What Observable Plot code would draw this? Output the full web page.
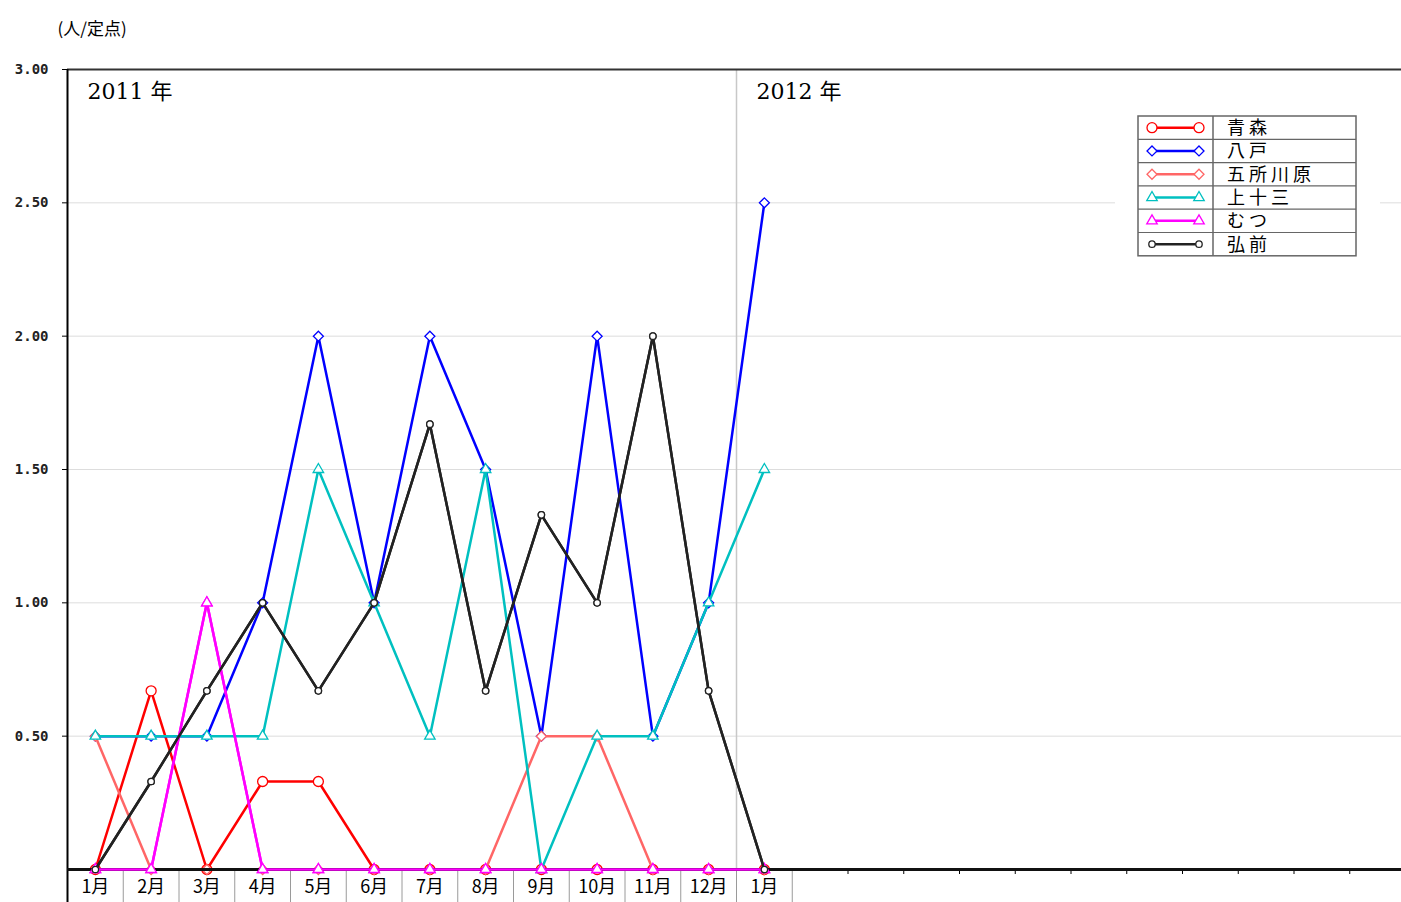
<!DOCTYPE html>
<html>
<head>
<meta charset="utf-8">
<script src="https://cdn.jsdelivr.net/npm/d3@7"></script>
<script src="https://cdn.jsdelivr.net/npm/@observablehq/plot@0.6"></script>
<style>
  html, body { margin: 0; padding: 0; background: #fff; }
  #chart svg { display: block; }
</style>
</head>
<body>
<div id="chart"></div>
<script>
const unitLabel = "(人/定点)";
const yearLabels = ["2011 年", "2012 年"];
const yearStarts = [0, 12];
const months = ["1月","2月","3月","4月","5月","6月","7月","8月","9月","10月","11月","12月","1月"];
const yTicks = [0.5, 1.0, 1.5, 2.0, 2.5, 3.0];

const seriesNames = ["青森", "八戸", "五所川原", "上十三", "むつ", "弘前"];
const seriesColors = ["#ff0000", "#0000ff", "#ff6666", "#00c0c0", "#ff00ff", "#222222"];
const seriesSymbols = ["circle", "diamond2", "diamond2", "triangle2", "triangle2", "circle"];
const seriesR = [5, 4.5, 4.5, 5, 5, 3.2];

const aomori      = [0, 0.67, 0, 0.33, 0.33, 0, 0, 0, 0, 0, 0, 0, 0];
const hachinohe   = [0.5, 0.5, 0.5, 1, 2, 1, 2, 1.5, 0.5, 2, 0.5, 1, 2.5];
const goshogawara = [0.5, 0, 0, 0, 0, 0, 0, 0, 0.5, 0.5, 0, 0, 0];
const kamitosan   = [0.5, 0.5, 0.5, 0.5, 1.5, 1, 0.5, 1.5, 0, 0.5, 0.5, 1, 1.5];
const mutsu       = [0, 0, 1, 0, 0, 0, 0, 0, 0, 0, 0, 0, 0];
const hirosaki    = [0, 0.33, 0.67, 1, 0.67, 1, 1.67, 0.67, 1.33, 1, 2, 0.67, 0];

const seriesValues = [aomori, hachinohe, goshogawara, kamitosan, mutsu, hirosaki];

const font = "'Noto Sans CJK JP', 'DejaVu Sans', sans-serif";
const W = 1401, H = 902;
const mL = 67, mR = 0, mT = 69, mB = 33;
const slotPx = 55.75;
const xMax = (W - mL - mR) / slotPx;

const boundaries = d3.range(1, 14);
const minorTicks = d3.range(14, 24);
const centers = months.map((_, i) => i + 0.5);

const marks = [
  Plot.ruleY(yTicks.filter(v => v < 3), {stroke: "#dddddd", strokeWidth: 1}),
  Plot.ruleX([12], {stroke: "#c8c8c8", strokeWidth: 1.5}),
  Plot.ruleY([3], {stroke: "#333333", strokeWidth: 2}),
  Plot.axisY({ticks: yTicks, tickFormat: d3.format(".2f"), tickSize: 5, tickPadding: 14, label: null,
    fontSize: 14, fontWeight: "bold", fontFamily: "'DejaVu Sans Mono', monospace", stroke: "#000", color: "#222"}),
  Plot.axisX({ticks: boundaries, tickFormat: () => "", tickSize: 33, stroke: "#9a9a9a", label: null}),
  Plot.axisX({ticks: minorTicks, tickFormat: () => "", tickSize: 5, stroke: "#000", label: null}),
  Plot.axisX({ticks: centers, tickFormat: (d, i) => months[i], tickSize: 0, tickPadding: 11, label: null,
    fontSize: 18, fontFamily: font, color: "#000"}),
  Plot.text([unitLabel], {frameAnchor: "top-left", dx: -10, dy: -47, fontSize: 17, fontFamily: font, textAnchor: "start", fill: "#000"}),
  Plot.text(yearLabels, {x: (d, i) => yearStarts[i], y: () => 3, dx: 20, dy: 22, textAnchor: "start",
    fontSize: 22, fontFamily: "'DejaVu Serif', 'Noto Sans CJK JP', serif", fill: "#000"})
];

seriesValues.forEach((vals, s) => {
  const data = vals.map((v, i) => ({x: i + 0.5, y: v}));
  marks.push(Plot.line(data, {x: "x", y: "y", stroke: seriesColors[s], strokeWidth: 2.5}));
  marks.push(Plot.dot(data, {x: "x", y: "y", symbol: seriesSymbols[s], r: seriesR[s], stroke: seriesColors[s], fill: "#fff", strokeWidth: 1.3}));
});

marks.push(Plot.ruleX([0], {stroke: "#000", strokeWidth: 2}));
marks.push(Plot.axisX({ticks: [0], tickFormat: () => "", tickSize: 33, stroke: "#000", strokeWidth: 2, label: null}));
marks.push(Plot.ruleY([0], {stroke: "#111", strokeWidth: 3}));
[4, 5].forEach(s => {
  const data = seriesValues[s].map((v, i) => ({x: i + 0.5, y: v}));
  marks.push(Plot.line(data, {x: "x", y: "y", stroke: seriesColors[s], strokeWidth: 2.5}));
  marks.push(Plot.dot(data, {x: "x", y: "y", symbol: seriesSymbols[s], r: seriesR[s], stroke: seriesColors[s], fill: "#fff", strokeWidth: 1.3}));
});

const plot = Plot.plot({
  width: W, height: H,
  marginLeft: mL, marginRight: mR, marginTop: mT, marginBottom: mB,
  x: {type: "linear", domain: [0, xMax], axis: null},
  y: {type: "linear", domain: [0, 3], axis: null},
  style: {fontFamily: font, background: "#fff", overflow: "visible"},
  marks
});

// Legend
const symbolMap = {circle: d3.symbolCircle, diamond2: d3.symbolDiamond2, triangle2: d3.symbolTriangle2};
const svg = d3.select(plot);
const lg = svg.append("g").attr("text-anchor", "start");
lg.append("rect").attr("x", 1115).attr("y", 104).attr("width", 265).attr("height", 162).attr("fill", "#fff");
const bx = 1138, by = 116, bw = 218, rowH = 23.3, bh = rowH * seriesNames.length;
lg.append("rect").attr("x", bx).attr("y", by).attr("width", bw).attr("height", bh)
  .attr("fill", "#fff").attr("stroke", "#666").attr("stroke-width", 1.5);
lg.append("line").attr("x1", 1213).attr("x2", 1213).attr("y1", by).attr("y2", by + bh).attr("stroke", "#666").attr("stroke-width", 1.5);
seriesNames.forEach((name, k) => {
  const cy = by + rowH * (k + 0.5);
  if (k > 0) lg.append("line").attr("x1", bx).attr("x2", bx + bw).attr("y1", by + rowH * k).attr("y2", by + rowH * k)
    .attr("stroke", "#666").attr("stroke-width", 1.2);
  lg.append("line").attr("x1", 1152).attr("x2", 1199).attr("y1", cy).attr("y2", cy)
    .attr("stroke", seriesColors[k]).attr("stroke-width", 2.5);
  const sym = d3.symbol().type(symbolMap[seriesSymbols[k]]).size(Math.PI * seriesR[k] * seriesR[k]);
  [1152, 1199].forEach(px => {
    lg.append("path").attr("d", sym()).attr("transform", `translate(${px},${cy})`)
      .attr("fill", "#fff").attr("stroke", seriesColors[k]).attr("stroke-width", 1.3);
  });
  lg.append("text").attr("x", 1227).attr("y", cy).attr("dy", "0.36em").attr("font-size", 18)
    .attr("letter-spacing", 4)
    .attr("text-anchor", "start").attr("font-family", font).attr("fill", "#000").text(name);
});

document.getElementById("chart").appendChild(plot);
</script>
</body>
</html>
